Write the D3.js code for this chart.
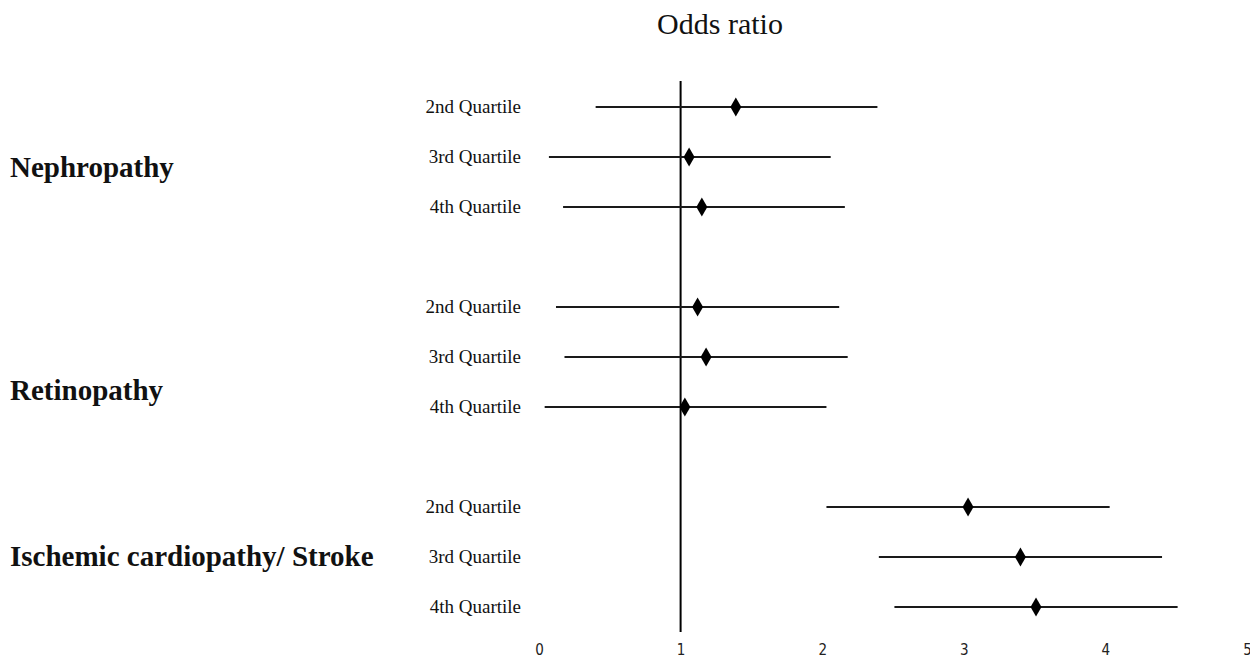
<html>
  <head>
    <meta charset="utf-8" />
    <script src="https://d3js.org/d3.v7.min.js"></script>
  </head>
  <style>
    body {
      margin: 0;
      background: #ffffff;
    }
    svg {
      display: block;
    }
    .quart {
      font-family: "Liberation Serif", "DejaVu Serif", serif;
      font-size: 19px;
      fill: #111;
    }
    .group {
      font-family: "Liberation Serif", "DejaVu Serif", serif;
      font-size: 29px;
      font-weight: bold;
      fill: #111;
    }
    .title {
      font-family: "Liberation Serif", "DejaVu Serif", serif;
      font-size: 30px;
      fill: #111;
    }
    .tick text {
      font-family: "Liberation Sans Narrow", "DejaVu Sans Condensed", sans-serif;
      font-size: 15px;
      fill: #222;
    }
  </style>
  <body>
    <div id="viz"></div>
    <script>
      // groups and rows
      const groups = ["Nephropathy", "Retinopathy", "Ischemic cardiopathy/ Stroke"];
      const quartiles = ["2nd Quartile", "3rd Quartile", "4th Quartile"];

      // odds ratio, lower and upper limits, one entry per quartile in each group
      const oddsRatio = [
        [1.39, 1.06, 1.15],
        [1.12, 1.18, 1.03],
        [3.03, 3.40, 3.51]
      ];
      const lower = [
        [0.40, 0.07, 0.17],
        [0.12, 0.18, 0.04],
        [2.03, 2.40, 2.51]
      ];
      const upper = [
        [2.39, 2.06, 2.16],
        [2.12, 2.18, 2.03],
        [4.03, 4.40, 4.51]
      ];
      const xTicks = [0, 1, 2, 3, 4, 5];
      const refValue = 1;

      const width = 1250;
      const height = 659;

      const svg = d3
        .select("#viz")
        .append("svg")
        .attr("width", width)
        .attr("height", height);

      // scales
      const xScale = d3.scaleLinear().domain([0, 5]).range([539, 1247]);
      // each group takes 4 row slots (3 rows + gap)
      const yScale = d3.scaleLinear().domain([0, 10]).range([107, 607]);

      // flatten rows
      const rows = [];
      groups.forEach((g, gi) => {
        quartiles.forEach((q, qi) => {
          rows.push({
            group: g,
            label: q,
            pos: gi * 4 + qi,
            or: oddsRatio[gi][qi],
            lo: lower[gi][qi],
            hi: upper[gi][qi]
          });
        });
      });

      // title
      svg
        .append("text")
        .attr("class", "title")
        .attr("x", 720)
        .attr("y", 34)
        .attr("text-anchor", "middle")
        .text("Odds ratio");

      // x axis (labels only)
      const xAxis = d3
        .axisBottom(xScale)
        .tickValues(xTicks)
        .tickFormat(d3.format("d"))
        .tickSize(0)
        .tickPadding(0);
      const axisG = svg.append("g").attr("transform", "translate(0,644)").call(xAxis);
      axisG.select(".domain").remove();
      axisG.selectAll(".tick text").attr("dy", "0.75em");

      // reference line at OR = 1
      svg
        .append("line")
        .attr("x1", xScale(refValue))
        .attr("x2", xScale(refValue))
        .attr("y1", 81)
        .attr("y2", 632)
        .attr("stroke", "#000")
        .attr("stroke-width", 2);

      // confidence interval lines
      svg
        .selectAll("line.ci")
        .data(rows)
        .enter()
        .append("line")
        .attr("class", "ci")
        .attr("x1", (d) => xScale(d.lo))
        .attr("x2", (d) => xScale(d.hi))
        .attr("y1", (d) => yScale(d.pos))
        .attr("y2", (d) => yScale(d.pos))
        .attr("stroke", "#1a1a1a")
        .attr("stroke-width", 2);

      // diamonds
      svg
        .selectAll("path.point")
        .data(rows)
        .enter()
        .append("path")
        .attr("class", "point")
        .attr("d", (d) => {
          const cx = xScale(d.or);
          const cy = yScale(d.pos);
          return `M${cx},${cy - 9.5}L${cx + 5.5},${cy}L${cx},${cy + 9.5}L${cx - 5.5},${cy}Z`;
        })
        .attr("fill", "#000");

      // quartile labels
      svg
        .selectAll("text.quart")
        .data(rows)
        .enter()
        .append("text")
        .attr("class", "quart")
        .attr("x", 521)
        .attr("y", (d) => yScale(d.pos) + 6)
        .attr("text-anchor", "end")
        .text((d) => d.label);

      // group labels
      const groupLabelPos = [1.2, 5.65, 8.98];
      svg
        .selectAll("text.group")
        .data(groups)
        .enter()
        .append("text")
        .attr("class", "group")
        .attr("x", 10)
        .attr("y", (d, i) => yScale(groupLabelPos[i]) + 10)
        .text((d) => d);
    </script>
  </body>
</html>
